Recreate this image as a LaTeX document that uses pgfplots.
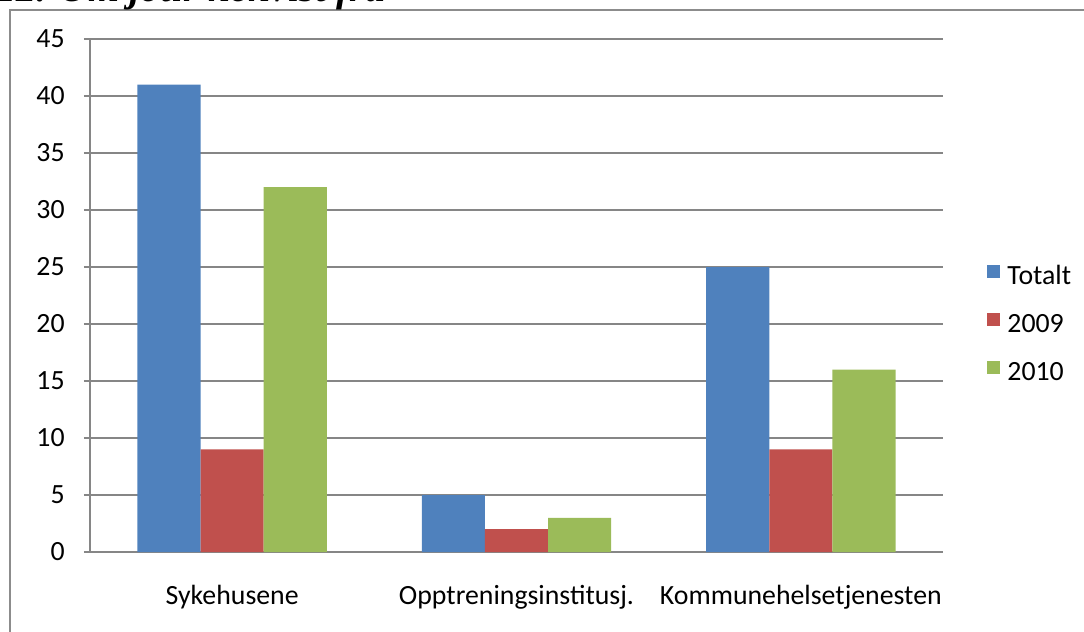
\documentclass[border=0pt]{standalone}
\usepackage{pgfplots}
\pgfplotsset{compat=1.18}
\usepackage{fontspec}
\setmainfont{Carlito}
\newfontfamily\titlefont{Liberation Serif}
\definecolor{cBlue}{HTML}{4F81BD}
\definecolor{cRed}{HTML}{C0504D}
\definecolor{cGreen}{HTML}{9BBB59}
\definecolor{cGrid}{HTML}{868686}
\definecolor{cFrame}{HTML}{8C8C8C}
\begin{document}
\begin{tikzpicture}
\path[use as bounding box] (0,0) rectangle (542pt,-316pt);
\draw[cFrame, line width=0.75pt] (5pt,-330pt) -- (5pt,-5pt) -- (560pt,-5pt);
\node[anchor=base west, inner sep=0pt, font=\titlefont\bfseries\itshape\fontsize{20}{22}\selectfont] at (-2pt,-0.5pt) {12. Om jour henvist fra};
\begin{axis}[
  at={(45pt,-276pt)}, anchor=south west,
  scale only axis, width=426.5pt, height=256.5pt,
  font=\fontsize{13.9}{16}\selectfont,
  /pgf/number format/assume math mode=true,
  ybar, bar width=0.222,
  xmin=-0.5, xmax=2.5, ymin=0, ymax=45,
  ytick={0,5,...,45},
  xtick={0,1,2},
  xticklabels={Sykehusene,Opptreningsinstitusj.,Kommunehelsetjenesten},
  xtick style={draw=none},
  extra x ticks={-0.5,0.5,1.5,2.5},
  extra x tick labels={},
  extra x tick style={tick style={draw=cGrid, line width=0.75pt}, major tick length=3pt},
  axis x line*=bottom, axis y line*=left,
  axis line style={draw=cGrid, line width=0.75pt, -},
  ytick style={draw=cGrid, line width=0.75pt},
  major tick length=3pt,
  tick align=outside,
  ymajorgrids, grid style={draw=cGrid, line width=0.75pt},
  yticklabel style={inner sep=0pt, xshift=-9.5pt},
  xticklabel style={inner sep=0pt, text height=9.5pt, text depth=2pt, yshift=-13.5pt},
  legend style={at={(1.0516,0.5595)}, anchor=north west, draw=none, fill=none,
    inner sep=0pt, row sep=12.5pt, column sep=3.5pt,
    nodes={inner sep=0pt, text height=9.5pt, text depth=2pt}},
  legend cell align=left,
  legend image code/.code={\fill[#1,draw=none] (0pt,-0.75pt) rectangle (6.5pt,5.75pt);},
]
\addplot[fill=cBlue, draw=none, bar shift=-0.222] coordinates {(0,41) (1,5) (2,25)};
\addplot[fill=cRed, draw=none, bar shift=0] coordinates {(0,9) (1,2) (2,9)};
\addplot[fill=cGreen, draw=none, bar shift=0.222] coordinates {(0,32) (1,3) (2,16)};
\legend{Totalt,2009,2010}
\end{axis}
\end{tikzpicture}
\end{document}
